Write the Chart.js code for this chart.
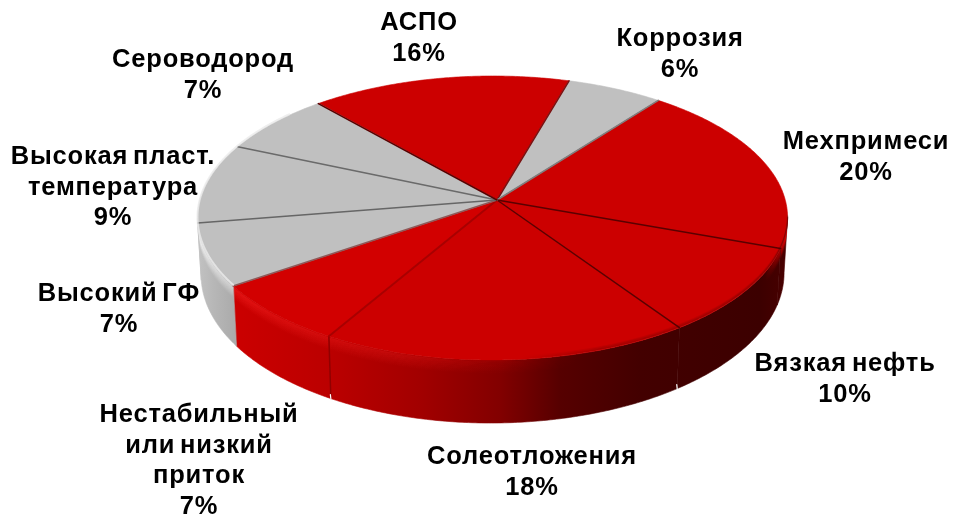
<!DOCTYPE html>
<html lang="ru">
<head>
<meta charset="utf-8">
<title>Осложняющие факторы</title>
<script src="https://cdn.jsdelivr.net/npm/chart.js@4"></script>
<style>
  html, body { margin: 0; padding: 0; background: #fff; }
  #wrap { width: 953px; height: 516px; }
</style>
</head>
<body>
<div id="wrap"><canvas id="pie" width="953" height="516"></canvas></div>
<script>
// Slices, clockwise from the red "АСПО" sector.
const categories = [
  ["АСПО"], ["Коррозия"], ["Мехпримеси"], ["Вязкая нефть"], ["Солеотложения"],
  ["Нестабильный", "или низкий", "приток"], ["Высокий ГФ"],
  ["Высокая пласт.", "температура"], ["Сероводород"]
];
const shares = [16, 6, 20, 10, 18, 7, 7, 9, 7];
const sliceColors = ["#cc0000", "#c0c0c0", "#cc0000", "#cc0000", "#cc0000", "#d20000", "#c0c0c0", "#c0c0c0", "#c0c0c0"];
// Line drawn at the clockwise end of each slice.
const seamColors = ["#7a1010", "#7f7f7f", "#5a0000", "#5a0000", "#a80000", "#8e5a5a", "#666666", "#6a6a6a", "#5a0000"];
// Centre of the first text line of each label.
const labelX = [419, 680, 866, 845, 532, 199, 119, 113, 203];
const labelY = [23, 39, 142, 364, 457, 415, 294, 157, 60];

// Tilted-disc projection with a little perspective towards the viewer.
const view = { cx: 497, cy: 200, rx: 292.6, ry: 139.7, persp: 0.1268, lean: 0.015, depth: 55, taper: 0.00022 };

function project(angle, drop) {
  const u = Math.cos(angle), v = Math.sin(angle), w = 1 - view.persp * v + view.lean * u;
  const d = drop || 0;
  return { x: view.cx + (view.rx * u / w) * (1 - view.taper * Math.max(d, 0)), y: view.cy + view.ry * v / w + d / w };
}
function trace(ctx, a1, a2, drop, move) {
  const n = Math.max(2, Math.ceil(Math.abs(a2 - a1) / 0.01));
  for (let i = 0; i <= n; i++) {
    const p = project(a1 + (a2 - a1) * i / n, drop);
    if (i === 0 && move) ctx.moveTo(p.x, p.y); else ctx.lineTo(p.x, p.y);
  }
}
function xGradient(ctx, stops) {
  const g = ctx.createLinearGradient(190, 0, 800, 0);
  stops.forEach(s => g.addColorStop((s[0] - 190) / 610, s[1]));
  return g;
}

const wallLimit = Math.asin(view.persp);

const tiltedPie = {
  id: "tiltedPie",
  beforeDatasetsDraw(chart) {
    const ctx = chart.ctx, arcs = chart.getDatasetMeta(0).data;
    const redWall = xGradient(ctx, [[230, "#cc0000"], [330, "#bb0000"], [420, "#a20000"], [500, "#820000"],
      [560, "#560000"], [640, "#430000"], [760, "#3c0000"], [790, "#4a0000"]]);
    const greyWall = xGradient(ctx, [[195, "#c4c4c4"], [215, "#b6b6b6"], [240, "#a8a8a8"]]);
    const redGlow = xGradient(ctx, [[230, "rgba(255,40,40,0.30)"], [400, "rgba(255,30,30,0.24)"], [540, "rgba(255,0,0,0.05)"],
      [580, "rgba(255,0,0,0)"], [765, "rgba(255,0,0,0)"], [790, "rgba(255,0,0,0.35)"]]);
    const greyGlow = "rgba(255,255,255,0.28)";

    ctx.save();
    ctx.lineJoin = "round";
    ctx.lineCap = "round";

    // Side wall of the disc, front part only.
    arcs.forEach(arc => {
      const a1 = Math.max(arc.startAngle, wallLimit), a2 = Math.min(arc.endAngle, Math.PI - wallLimit);
      if (a2 <= a1) return;
      const red = arc.options.backgroundColor !== "#c0c0c0";
      ctx.beginPath();
      trace(ctx, a1, a2, 0, true);
      trace(ctx, a2, a1, view.depth, false);
      ctx.closePath();
      ctx.fillStyle = red ? redWall : greyWall;
      ctx.fill();
      ctx.strokeStyle = ctx.fillStyle;
      ctx.lineWidth = 0.6;
      ctx.stroke();
      // Rounded bevel under the rim.
      ctx.save();
      ctx.clip();
      for (let d = 1; d <= 11; d++) {
        ctx.beginPath();
        trace(ctx, a1, a2, d, true);
        ctx.strokeStyle = red ? redGlow : greyGlow;
        ctx.globalAlpha = 1 - d / 12;
        ctx.lineWidth = 1.6;
        ctx.stroke();
      }
      ctx.restore();
    });

    // Seams on the wall between the front slices.
    arcs.forEach((arc, i) => {
      const a = arc.endAngle;
      if (a < wallLimit || a > Math.PI - wallLimit) return;
      const top = project(a, 0), low = project(a, view.depth);
      if (i === 4) {
        ctx.beginPath(); ctx.moveTo(top.x, top.y); ctx.lineTo(low.x, low.y);
        ctx.strokeStyle = "#900000"; ctx.lineWidth = 1.5; ctx.stroke();
      }
      if (i === 3 || i === 4) {
        ctx.beginPath(); ctx.moveTo(low.x, low.y + 0.5); ctx.lineTo(low.x - 0.5, low.y - 4);
        ctx.strokeStyle = "#ffffff"; ctx.lineWidth = 1.2; ctx.stroke();
      }
    });

    // Top face of each slice.
    arcs.forEach(arc => {
      ctx.beginPath();
      ctx.moveTo(view.cx, view.cy);
      trace(ctx, arc.startAngle, arc.endAngle, 0, false);
      ctx.closePath();
      ctx.fillStyle = arc.options.backgroundColor;
      ctx.fill();
      ctx.strokeStyle = arc.options.backgroundColor;
      ctx.lineWidth = 0.6;
      ctx.stroke();
    });

    // Lines separating the slices.
    arcs.forEach((arc, i) => {
      const p = project(arc.endAngle, 0);
      ctx.beginPath();
      ctx.moveTo(view.cx, view.cy);
      ctx.lineTo(p.x, p.y);
      ctx.strokeStyle = seamColors[i];
      ctx.lineWidth = i === 4 ? 2 : 1.5;
      ctx.stroke();
    });

    // Soft dark blend where the top face meets the shaded wall on the right.
    const shade = xGradient(ctx, [[520, "rgba(70,0,0,0)"], [600, "rgba(70,0,0,0.38)"], [790, "rgba(70,0,0,0.42)"]]);
    for (let d = 1; d <= 3; d++) {
      ctx.beginPath();
      trace(ctx, wallLimit, Math.PI / 2 + 0.15, -d, true);
      ctx.strokeStyle = shade;
      ctx.globalAlpha = 1 - d / 4;
      ctx.lineWidth = 1.2;
      ctx.stroke();
    }
    ctx.globalAlpha = 1;

    // Light rim on the grey rear-left slices.
    const greyEnd = arcs[arcs.length - 1].startAngle;
    ctx.beginPath();
    trace(ctx, arcs[6].startAngle, greyEnd + 0.3, -1, true);
    ctx.strokeStyle = "rgba(235,235,235,0.8)";
    ctx.lineWidth = 2;
    ctx.stroke();

    ctx.restore();
    return false;
  },
  afterDraw(chart) {
    const ctx = chart.ctx;
    ctx.save();
    ctx.font = "bold 25.5px 'Liberation Sans', Arial, sans-serif";
    ctx.letterSpacing = "0.8px";
    ctx.wordSpacing = "-3px";
    ctx.textAlign = "center";
    ctx.textBaseline = "middle";
    ctx.fillStyle = "#000";
    categories.forEach((lines, i) => {
      [...lines, shares[i] + "%"].forEach((text, k) => {
        ctx.fillText(text, labelX[i], labelY[i] + k * 30.7);
      });
    });
    ctx.restore();
  }
};

new Chart(document.getElementById("pie"), {
  type: "pie",
  data: {
    labels: categories.map(c => c.join(" ")),
    datasets: [{ data: shares, backgroundColor: sliceColors, borderWidth: 0 }]
  },
  options: {
    responsive: false,
    animation: false,
    rotation: -41.5,
    events: [],
    plugins: { legend: { display: false }, tooltip: { enabled: false } }
  },
  plugins: [tiltedPie]
});
</script>
</body>
</html>
